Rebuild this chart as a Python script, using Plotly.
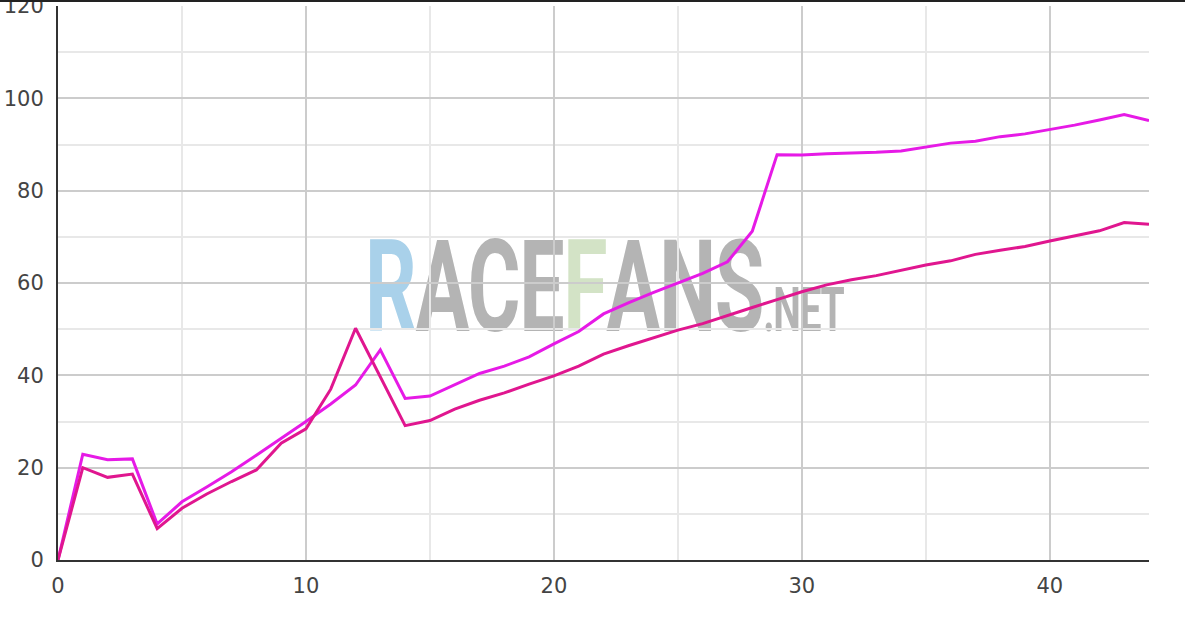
import plotly.graph_objects as go

laps = list(range(0, 45))

series_magenta = [0, 22.9, 21.7, 21.9, 7.8, 12.6, 15.8, 19.1, 22.7, 26.3,
                  30.0, 33.8, 37.9, 45.5, 35.0, 35.5, 37.9, 40.4, 42.0, 44.0,
                  46.8, 49.5, 53.3, 55.7, 57.9, 60.0, 62.1, 64.6, 71.2, 87.8,
                  87.7, 88.0, 88.1, 88.3, 88.6, 89.5, 90.3, 90.7, 91.7, 92.3,
                  93.2, 94.2, 95.3, 96.5, 95.2]

series_pink = [0, 20.0, 17.9, 18.6, 6.8, 11.2, 14.3, 17.0, 19.5, 25.3,
               28.4, 37.0, 50.2, 39.6, 29.1, 30.2, 32.7, 34.6, 36.2, 38.1,
               39.9, 42.0, 44.6, 46.4, 48.1, 49.8, 51.2, 53.0, 54.7, 56.4,
               58.1, 59.6, 60.7, 61.6, 62.8, 63.9, 64.8, 66.2, 67.1, 67.9,
               69.1, 70.2, 71.3, 73.1, 72.7]

x_ticks = [0, 10, 20, 30, 40]
y_ticks = [0, 20, 40, 60, 80, 100, 120]

W, H = 1185, 620
L, R, T, B = 58, 36, 6, 60
pw, ph = W - L - R, H - T - B

fig = go.Figure()
fig.add_trace(go.Scatter(x=laps, y=series_magenta, mode="lines",
                         line=dict(color="#e61ae6", width=3), showlegend=False,
                         hoverinfo="x+y"))
fig.add_trace(go.Scatter(x=laps, y=series_pink, mode="lines",
                         line=dict(color="#e0168f", width=3), showlegend=False,
                         hoverinfo="x+y"))

sp = "letter-spacing:-2px"
wm = ('<b><span style="color:#a9d1ea;%s">R</span>'
      '<span style="color:#b4b4b4;%s">ACE</span>'
      '<span style="color:#d3e3c6;%s">F</span>'
      '<span style="color:#b4b4b4;%s">ANS</span>'
      '<span style="color:#b4b4b4;font-size:62px;letter-spacing:-2px">.NET</span></b>') % (sp, sp, sp, sp)

cx = (604 - L) / pw
cy = (560 - 278) / ph
fig.add_shape(type="rect", xref="paper", yref="paper",
              x0=cx - 0.3, x1=cx + 0.3, y0=cy - 0.12, y1=cy + 0.12,
              line=dict(width=0), fillcolor="rgba(0,0,0,0)", layer="below",
              label=dict(text=wm, textposition="middle center",
                         font=dict(family="Roboto", size=128,
                                   color="#b4b4b4")))

# top border line
fig.add_shape(type="line", xref="paper", yref="paper",
              x0=-L / pw, x1=1 + R / pw, y0=1 + 5 / ph, y1=1 + 5 / ph,
              line=dict(color="#222222", width=2), layer="above")

axis_font = dict(family="DejaVu Sans", size=21, color="#444444")

fig.update_xaxes(range=[0, 44], tickvals=x_ticks, showgrid=True,
                 gridcolor="#cccccc", gridwidth=1.5,
                 minor=dict(dtick=5, showgrid=True, gridcolor="#e8e8e8", gridwidth=1.5),
                 showline=True, linecolor="#333333", linewidth=2,
                 ticks="outside", ticklen=6, tickcolor="rgba(0,0,0,0)",
                 tickfont=axis_font, zeroline=False, fixedrange=True,
                 automargin=False, ticklabeloverflow="allow")
fig.update_yaxes(range=[0, 120], tickvals=y_ticks, showgrid=True,
                 gridcolor="#cccccc", gridwidth=1.5,
                 minor=dict(dtick=10, showgrid=True, gridcolor="#e8e8e8", gridwidth=1.5),
                 showline=True, linecolor="#333333", linewidth=2,
                 ticks="outside", ticklen=8, tickcolor="rgba(0,0,0,0)",
                 tickfont=axis_font, zeroline=False, fixedrange=True,
                 automargin=False, ticklabeloverflow="allow")

fig.update_layout(width=W, height=H,
                  margin=dict(l=L, r=R, t=T, b=B, pad=0, autoexpand=False),
                  paper_bgcolor="white", plot_bgcolor="rgba(0,0,0,0)",
                  showlegend=False)

post_js = """
document.body.style.margin='0';document.body.style.overflow='hidden';
(function(){
  function squeeze(){
    document.querySelectorAll('svg text').forEach(function(t){
      if(t.textContent.indexOf('RACE')>=0 && !t.getAttribute('data-sq')){
        var b=t.getBBox(); var cx=b.x+b.width/2, cy=b.y+b.height/2;
        var tr=t.getAttribute('transform')||'';
        t.setAttribute('transform','translate('+cx+','+cy+') scale(0.63,1) translate('+(-cx)+','+(-cy)+') '+tr);
        t.setAttribute('data-sq','1');
      }
    });
  }
  squeeze();
  setTimeout(squeeze,0); setTimeout(squeeze,50); setTimeout(squeeze,300);
  var gd=document.getElementById('{plot_id}');
  if(gd && gd.on){ gd.on('plotly_afterplot', squeeze); }
})();
"""

fig.write_html("out.html", config={"displayModeBar": False}, post_script=post_js)
